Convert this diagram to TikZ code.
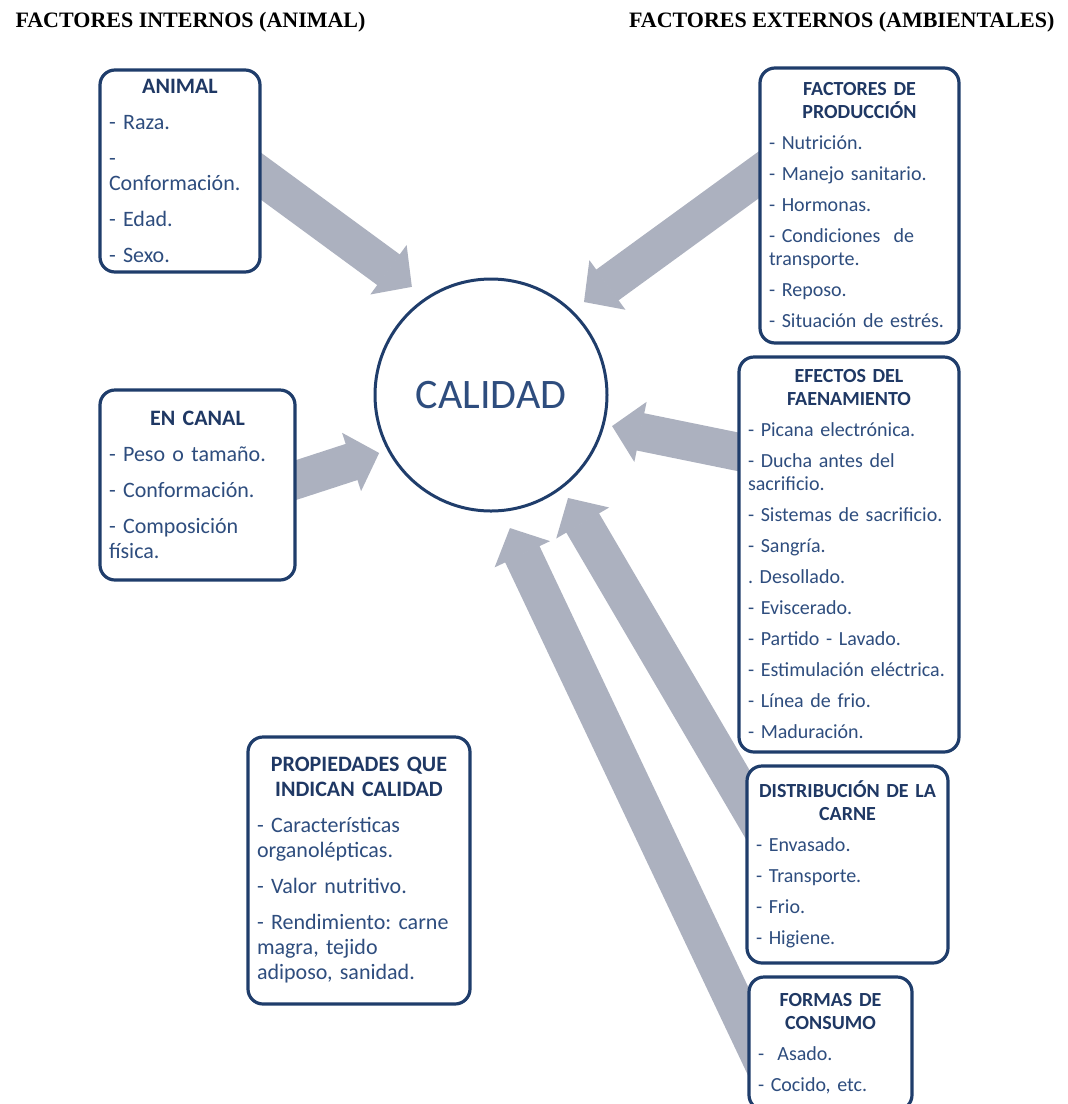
\documentclass[tikz,border=0pt]{standalone}
\usepackage{fontspec}
\setmainfont{Carlito}
\newfontfamily\titlefont{Liberation Serif}
\usetikzlibrary{arrows.meta,calc,backgrounds}
\definecolor{borde}{HTML}{1F3D6B}
\definecolor{cabeza}{HTML}{1F3864}
\definecolor{tinta}{HTML}{2E4D7E}
\definecolor{flechagris}{HTML}{ACB1BF}
\newcommand{\cab}[1]{{\centering\bfseries\color{cabeza}#1\par}}
\frenchspacing

\begin{document}
\begin{tikzpicture}[x=1pt, y=1pt,
  caja/.style={draw=borde, line width=3.2pt, rounded corners=15pt,
    fill=white, text=tinta, inner xsep=9pt, inner ysep=0pt, align=left},
  izq/.style={caja, font=\fontsize{22}{25}\selectfont,
    execute at begin node={\setlength{\parskip}{11pt}}},
  der/.style={caja, font=\fontsize{20}{23}\selectfont,
    execute at begin node={\setlength{\parskip}{8pt}}},
  flecha/.style={flechagris, line width=38pt,
    -{Triangle[width=61pt, length=29pt, line width=2pt]}}]

\useasboundingbox (0,0) rectangle (1068,-1104);
\clip (0,0) rectangle (1068,-1104);

% ---- titles
\node[anchor=base west, font=\titlefont\bfseries\fontsize{22}{26}\selectfont]
  (tizq) at (12,-27) {FACTORES INTERNOS (ANIMAL)};
\node[anchor=base east, font=\titlefont\bfseries\fontsize{22}{26}\selectfont]
  (tder) at (1058,-27) {FACTORES EXTERNOS (AMBIENTALES)};

% ---- centre
\node[circle, draw=borde, line width=3pt, minimum size=232pt, inner sep=0pt,
      fill=white, text=tinta, font=\fontsize{42}{50}\selectfont]
  (cal) at (491,-395) {CALIDAD};

% ---- internal factors
\node[izq, text width=142pt, minimum height=202pt] (animal) at (180,-171)
  {\cab{ANIMAL}
   - Raza.\par
   -\newline Conformación.\par
   - Edad.\par
   - Sexo.};

\node[izq, text width=177pt, minimum height=190pt] (canal) at (197.5,-485)
  {\cab{EN CANAL}
   - Peso o tamaño.\par
   - Conformación.\par
   - Composición\newline física.};

\node[izq, text width=204pt, minimum height=267pt] (prop) at (359,-870.5)
  {\cab{PROPIEDADES QUE\\INDICAN CALIDAD}
   - Características\newline organolépticas.\par
   - Valor nutritivo.\par
   - Rendimiento: carne\newline magra, tejido\newline adiposo, sanidad.};

% ---- external factors
\node[der, text width=181pt, minimum height=275pt] (prod) at (859.5,-205.5)
  {\cab{FACTORES DE\\PRODUCCIÓN}
   - Nutrición.\par
   - Manejo sanitario.\par
   - Hormonas.\par
   - Condiciones\ \ de\newline transporte.\par
   - Reposo.\par
   - Situación de estrés.};

\node[der, text width=202pt, minimum height=395pt] (efectos) at (849,-554.5)
  {\cab{EFECTOS DEL\\FAENAMIENTO}
   - Picana electrónica.\par
   - Ducha antes del\newline sacrificio.\par
   - Sistemas de sacrificio.\par
   - Sangría.\par
   .\ Desollado.\par
   - Eviscerado.\par
   - Partido - Lavado.\par
   - Estimulación eléctrica.\par
   - Línea de frio.\par
   - Maduración.};

\node[der, text width=183pt, minimum height=197pt] (distrib) at (847.5,-864.5)
  {\cab{DISTRIBUCIÓN DE LA\\CARNE}
   - Envasado.\par
   - Transporte.\par
   - Frio.\par
   - Higiene.};

\node[der, text width=145pt, minimum height=133pt] (formas) at (830.5,-1043.5)
  {\cab{FORMAS DE\\CONSUMO}
   -\ \ Asado.\par
   - Cocido, etc.};

% ---- block arrows into the centre
\begin{scope}[on background layer]
  \draw[flecha] ($(animal.east)+(-20,9)$)   -- ($(cal)+(126.2:134)$);
  \draw[flecha] ($(canal.east)+(-25,-3)$)   -- ($(cal)+(207.4:126)$);
  \draw[flecha] ($(prod.west)+(40,59.5)$)   -- ($(cal)+(45:131.5)$);
  \draw[flecha] ($(efectos.west)+(31,96.5)$) -- ($(cal)+(345.6:125)$);
  \draw[flecha] ($(distrib.west)+(43,-9.5)$) -- ($(cal)+(306.8:128.6)$);
  \draw[flecha] ($(formas.west)+(21,-30.5)$) -- ($(cal)+(278.1:134.4)$);
\end{scope}

\end{tikzpicture}
\end{document}
